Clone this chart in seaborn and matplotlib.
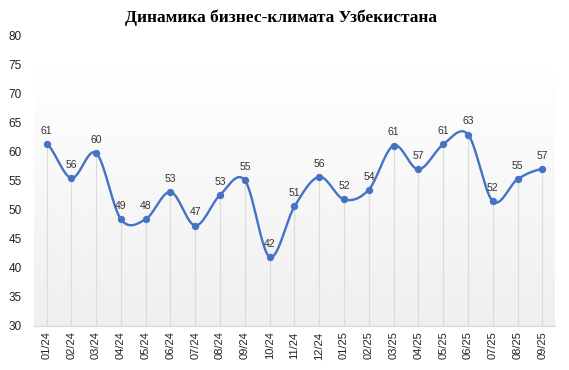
import numpy as np
import pandas as pd
import matplotlib
matplotlib.use("Agg")
import matplotlib.pyplot as plt
import seaborn as sns

# Data
months = ["01/24", "02/24", "03/24", "04/24", "05/24", "06/24", "07/24", "08/24", "09/24",
          "10/24", "11/24", "12/24", "01/25", "02/25", "03/25", "04/25", "05/25", "06/25",
          "07/25", "08/25", "09/25"]
values = [61.4, 55.5, 59.8, 48.4, 48.4, 53.1, 47.3, 52.6, 55.1, 41.9, 50.6, 55.7,
          51.8, 53.5, 61.1, 57.0, 61.3, 63.0, 51.5, 55.3, 57.1]
labels = [61, 56, 60, 49, 48, 53, 47, 53, 55, 42, 51, 56, 52, 54, 61, 57, 61, 63, 52, 55, 57]

title = "Динамика бизнес-климата Узбекистана"
blue = "#4472C4"


def catmull_rom(y, steps=30):
    # smooth line through the points (drawing only)
    y = np.asarray(y, dtype=float)
    p = np.concatenate([[y[0]], y, [y[-1]]])
    xs, ys = [], []
    t = np.linspace(0, 1, steps, endpoint=False)
    for i in range(len(y) - 1):
        p0, p1, p2, p3 = p[i], p[i + 1], p[i + 2], p[i + 3]
        m1 = (p2 - p0) / 2
        m2 = (p3 - p1) / 2
        h00 = 2 * t**3 - 3 * t**2 + 1
        h10 = t**3 - 2 * t**2 + t
        h01 = -2 * t**3 + 3 * t**2
        h11 = t**3 - t**2
        ys.append(h00 * p1 + h10 * m1 + h01 * p2 + h11 * m2)
        xs.append(i + t)
    xs.append([len(y) - 1])
    ys.append([y[-1]])
    return np.concatenate(xs), np.concatenate(ys)


df = pd.DataFrame({"month": months, "value": values, "x": np.arange(len(months))})

sns.set_theme(style="white")
plt.rcParams["font.family"] = ["Liberation Sans", "DejaVu Sans"]

fig = plt.figure(figsize=(5.69, 3.70), dpi=100)
ax = fig.add_axes([0.06, 0.119, 0.915, 0.784])

# gradient background
grad = np.linspace(0, 1, 256).reshape(-1, 1)
ax.imshow(grad, extent=(-0.5, 20.5, 30, 74.5), aspect="auto", origin="upper",
          cmap=matplotlib.colors.LinearSegmentedColormap.from_list("g", ["#ffffff", "#efefef"]),
          zorder=0)

# drop lines
ax.vlines(df["x"], 30, df["value"], color="#dcdcdc", lw=0.9, zorder=1)

sx, sy = catmull_rom(values)
ax.plot(sx, sy, color=blue, lw=1.7, zorder=3)
sns.scatterplot(data=df, x="x", y="value", color=blue, s=28, edgecolor=blue,
                linewidth=0, zorder=4, ax=ax)

for xi, v, lab in zip(df["x"], values, labels):
    ax.text(xi, v + 1.4, str(lab), ha="center", va="bottom", fontsize=7.5, color="#333333",
            zorder=5)

ax.set_xlim(-0.5, 20.5)
ax.set_ylim(30, 80)
ax.set_yticks(np.arange(30, 81, 5))
ax.set_xticks(df["x"])
ax.set_xticklabels(months, rotation=90, fontsize=8, color="#222222")
ax.tick_params(axis="y", labelsize=8.5, labelcolor="#222222", length=0, pad=9)
ax.tick_params(axis="x", length=0, pad=4)
ax.set_xlabel("")
ax.set_ylabel("")
for side in ["top", "right", "left"]:
    ax.spines[side].set_visible(False)
ax.spines["bottom"].set_color("#d8d8d8")
ax.spines["bottom"].set_linewidth(0.8)
ax.patch.set_alpha(0)

fig.text(0.493, 0.975, title, ha="center", va="top", fontsize=12.5, fontweight="bold",
         family=["Liberation Serif", "DejaVu Serif"], color="black")

fig.savefig("out.png", dpi=100)
